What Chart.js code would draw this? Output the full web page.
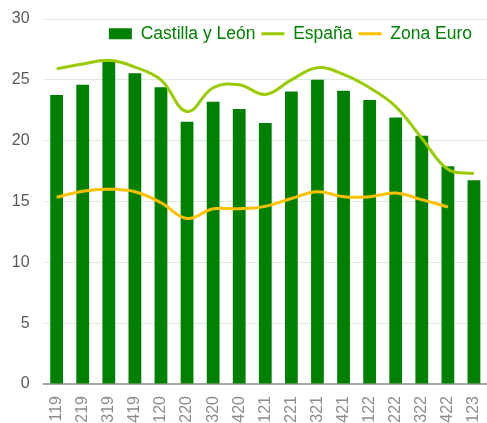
<!DOCTYPE html>
<html lang="es">
<head>
    <meta charset="UTF-8">
    <title>Castilla y León, España, Zona Euro</title>
    <script src="https://cdn.jsdelivr.net/npm/chart.js"></script>
    <style>
        html, body { margin: 0; padding: 0; background: #fff; overflow: hidden; }
        .chart-container { width: 487px; height: 423px; }
    </style>
</head>
<body>
    <div class="chart-container">
        <canvas id="chart"></canvas>
    </div>

    <script>
        const labels = ["119", "219", "319", "419", "120", "220", "320", "420", "121", "221", "321", "421", "122", "222", "322", "422", "123"];
        const castillaLeon = [23.75, 24.6, 26.5, 25.55, 24.4, 21.55, 23.2, 22.6, 21.45, 24.05, 25.0, 24.1, 23.35, 21.9, 20.4, 17.9, 16.75];
        const espana = [25.9, 26.3, 26.6, 26.05, 25.0, 22.4, 24.35, 24.6, 23.8, 25.0, 26.0, 25.45, 24.35, 22.8, 20.2, 17.65, 17.3];
        const zonaEuro = [15.35, 15.85, 16.0, 15.8, 14.9, 13.6, 14.4, 14.4, 14.6, 15.25, 15.8, 15.4, 15.4, 15.7, 15.15, 14.55, null];
        const yTicks = [0, 5, 10, 15, 20, 25, 30];
        const legendOrder = ["Castilla y León", "España", "Zona Euro"];

        const textGray = "#595959";
        const green = "#008000";

        // legend sits on top of the plot area: it takes no layout space,
        // then gets its real height back so it is not clipped when drawn
        const overlayLegend = {
            id: "overlayLegend",
            beforeLayout(chart) {
                const legend = chart.legend;
                if (!legend || legend._overlay) return;
                const fit = legend.fit.bind(legend);
                legend.fit = function () { fit(); this._realHeight = this.height; this.height = 0; };
                legend._overlay = true;
            },
            afterLayout(chart) {
                const legend = chart.legend;
                if (!legend) return;
                legend.height = legend._realHeight;
                legend.bottom = legend.top + legend._realHeight;
                legend.right -= 9;
                legend.width -= 9;
            }
        };

        new Chart(document.getElementById("chart"), {
            data: {
                labels,
                datasets: [
                    { type: "line", label: "España", data: espana, borderColor: "#99cc00", backgroundColor: "#99cc00",
                      borderWidth: 3, pointRadius: 0, pointStyle: "line", tension: 0.4, order: 1 },
                    { type: "line", label: "Zona Euro", data: zonaEuro, borderColor: "#ffc000", backgroundColor: "#ffc000",
                      borderWidth: 3, pointRadius: 0, pointStyle: "line", tension: 0.4, order: 2 },
                    { type: "bar", label: "Castilla y León", data: castillaLeon, backgroundColor: green,
                      pointStyle: "rect", barPercentage: 0.49, categoryPercentage: 1, order: 3 }
                ]
            },
            options: {
                responsive: true,
                maintainAspectRatio: false,
                animation: false,
                layout: { padding: { top: 19, right: 0, bottom: 0, left: 0 } },
                plugins: {
                    tooltip: { enabled: false },
                    legend: {
                        position: "top",
                        align: "end",
                        labels: {
                            color: green,
                            font: { family: "Liberation Sans, Arial", size: 17.5 },
                            usePointStyle: true,
                            pointStyleWidth: 23,
                            boxHeight: 11,
                            padding: 6,
                            sort: (a, b) => legendOrder.indexOf(a.text) - legendOrder.indexOf(b.text)
                        }
                    }
                },
                scales: {
                    x: {
                        offset: true,
                        grid: { display: false },
                        border: { color: "#a6a6a6", width: 2 },
                        ticks: {
                            color: "#8c8c8c",
                            font: { family: "Liberation Sans, Arial", size: 16 },
                            maxRotation: 90, minRotation: 90,
                            autoSkip: false,
                            padding: 4
                        },
                        afterFit: (scale) => { scale.paddingLeft = 0; scale.paddingRight = 0; scale.height = 39; }
                    },
                    y: {
                        min: 0, max: 30,
                        afterBuildTicks: (axis) => { axis.ticks = yTicks.map(v => ({ value: v })); },
                        grid: { color: "#dde9da", drawTicks: false },
                        border: { display: false },
                        ticks: {
                            color: textGray,
                            font: { family: "Liberation Sans, Arial", size: 16 },
                            padding: 14
                        },
                        afterFit: (scale) => { scale.paddingTop = 0; scale.paddingBottom = 0; scale.width = 43.6; }
                    }
                }
            },
            plugins: [overlayLegend]
        });
    </script>
</body>
</html>
